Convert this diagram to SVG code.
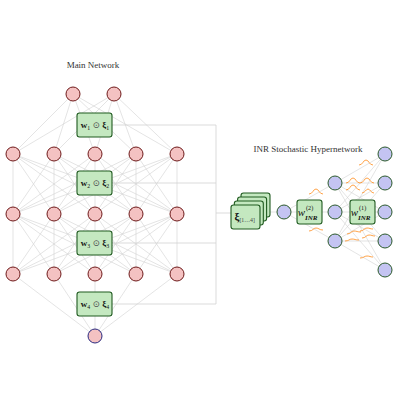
<svg xmlns="http://www.w3.org/2000/svg" width="400" height="400" viewBox="0 0 400 400">
<defs>
<style>
.edge{fill:none;stroke:#d2d2d2;stroke-width:0.6}
.bracket{fill:none;stroke:#d2d2d2;stroke-width:0.8}
.pn{fill:#f4c2c2;stroke:#6e1a1a;stroke-width:1}
.out{fill:#f4c2c2;stroke:#2a2a80;stroke-width:1}
.bn{fill:#c4c4f2;stroke:#2b5a2b;stroke-width:1}
.box{fill:#c4e8c0;stroke:#1f5a1f;stroke-width:1.1}
.bump{fill:none;stroke:#ff8c1a;stroke-width:0.8}
.title{font-family:"Liberation Serif","DejaVu Serif",serif;font-size:9px;fill:#333;text-anchor:middle}
.lab{font-family:"Liberation Serif","DejaVu Serif",serif;font-size:9px;fill:#111}
.b{font-weight:bold}
.sm{font-size:5.8px}
.it{font-style:italic}
.op{font-weight:normal;fill:#555}
.wv{font-size:11px;font-style:italic}
.sup{font-size:6.2px}
.sub{font-size:7px;font-style:italic;font-weight:bold}
</style>
</defs>
<rect width="400" height="400" fill="#fff"/>
<text class="title" x="93" y="68">Main Network</text>
<text class="title" x="308" y="152">INR Stochastic Hypernetwork</text>
<g id="connectors">
<path class="edge" d="M73 94L13 154M73 94L54 154M73 94L95 154M73 94L136 154M73 94L177 154M114 94L13 154M114 94L54 154M114 94L95 154M114 94L136 154M114 94L177 154
M13 154L13 214M13 154L54 214M13 154L95 214M13 154L136 214M13 154L177 214
M54 154L13 214M54 154L54 214M54 154L95 214M54 154L136 214M54 154L177 214
M95 154L13 214M95 154L54 214M95 154L95 214M95 154L136 214M95 154L177 214
M136 154L13 214M136 154L54 214M136 154L95 214M136 154L136 214M136 154L177 214
M177 154L13 214M177 154L54 214M177 154L95 214M177 154L136 214M177 154L177 214
M13 214L13 274M13 214L54 274M13 214L95 274M13 214L136 274M13 214L177 274
M54 214L13 274M54 214L54 274M54 214L95 274M54 214L136 274M54 214L177 274
M95 214L13 274M95 214L54 274M95 214L95 274M95 214L136 274M95 214L177 274
M136 214L13 274M136 214L54 274M136 214L95 274M136 214L136 274M136 214L177 274
M177 214L13 274M177 214L54 274M177 214L95 274M177 214L136 274M177 214L177 274
M13 274L95 336M54 274L95 336M95 274L95 336M136 274L95 336M177 274L95 336"/>
<path class="bracket" d="M112 125H216V304H112M112 183H216M112 243H216M216 213H231"/>
<path class="edge" d="M261 212H277M284 212L335 183M284 212L335 212M284 212L335 241
M335 183L385 154M335 183L385 183M335 183L385 212M335 183L385 241M335 183L385 270
M335 212L385 154M335 212L385 183M335 212L385 212M335 212L385 241M335 212L385 270
M335 241L385 154M335 241L385 183M335 241L385 212M335 241L385 241M335 241L385 270"/>
</g>
<g id="main-nodes">
<circle id="n0a" class="pn" cx="73" cy="94" r="7"/>
<circle id="n0b" class="pn" cx="114" cy="94" r="7"/>
<circle id="n1a" class="pn" cx="13" cy="154" r="7"/>
<circle id="n1b" class="pn" cx="54" cy="154" r="7"/>
<circle id="n1c" class="pn" cx="95" cy="154" r="7"/>
<circle id="n1d" class="pn" cx="136" cy="154" r="7"/>
<circle id="n1e" class="pn" cx="177" cy="154" r="7"/>
<circle id="n2a" class="pn" cx="13" cy="214" r="7"/>
<circle id="n2b" class="pn" cx="54" cy="214" r="7"/>
<circle id="n2c" class="pn" cx="95" cy="214" r="7"/>
<circle id="n2d" class="pn" cx="136" cy="214" r="7"/>
<circle id="n2e" class="pn" cx="177" cy="214" r="7"/>
<circle id="n3a" class="pn" cx="13" cy="274" r="7"/>
<circle id="n3b" class="pn" cx="54" cy="274" r="7"/>
<circle id="n3c" class="pn" cx="95" cy="274" r="7"/>
<circle id="n3d" class="pn" cx="136" cy="274" r="7"/>
<circle id="n3e" class="pn" cx="177" cy="274" r="7"/>
<circle id="n4" class="out" cx="95" cy="336" r="7"/>
</g>
<g id="box1"><rect class="box" x="77" y="113" width="35" height="24" rx="2.5"/>
<text class="lab" x="95" y="128" text-anchor="middle"><tspan class="b">w</tspan><tspan class="sm" dy="1.5">1</tspan><tspan class="op" dy="-1.5"> ⊙ </tspan><tspan class="b">ξ</tspan><tspan class="sm" dy="1.5">1</tspan></text></g>
<g id="box2"><rect class="box" x="77" y="171" width="35" height="24" rx="2.5"/>
<text class="lab" x="95" y="186" text-anchor="middle"><tspan class="b">w</tspan><tspan class="sm" dy="1.5">2</tspan><tspan class="op" dy="-1.5"> ⊙ </tspan><tspan class="b">ξ</tspan><tspan class="sm" dy="1.5">2</tspan></text></g>
<g id="box3"><rect class="box" x="77" y="231" width="35" height="24" rx="2.5"/>
<text class="lab" x="95" y="246" text-anchor="middle"><tspan class="b">w</tspan><tspan class="sm" dy="1.5">3</tspan><tspan class="op" dy="-1.5"> ⊙ </tspan><tspan class="b">ξ</tspan><tspan class="sm" dy="1.5">3</tspan></text></g>
<g id="box4"><rect class="box" x="77" y="292" width="35" height="24" rx="2.5"/>
<text class="lab" x="95" y="307" text-anchor="middle"><tspan class="b">w</tspan><tspan class="sm" dy="1.5">4</tspan><tspan class="op" dy="-1.5"> ⊙ </tspan><tspan class="b">ξ</tspan><tspan class="sm" dy="1.5">4</tspan></text></g>
<g id="xi-stack">
<rect class="box" x="241" y="193" width="29" height="24" rx="2.5"/>
<rect class="box" x="237.6" y="197" width="29" height="24" rx="2.5"/>
<rect class="box" x="234.3" y="201" width="29" height="24" rx="2.5"/>
<rect class="box" x="231" y="205" width="29" height="24" rx="2.5"/>
<text class="lab" x="234.5" y="220"><tspan class="b" font-size="11">ξ</tspan><tspan class="sm" dy="1.5" fill="#444">[1…4]</tspan></text>
</g>
<g id="hyper-nodes">
<circle id="h0" class="bn" cx="284" cy="212" r="7"/>
<circle id="h1a" class="bn" cx="335" cy="183" r="7"/>
<circle id="h1b" class="bn" cx="335" cy="212" r="7"/>
<circle id="h1c" class="bn" cx="335" cy="241" r="7"/>
<circle id="h2a" class="bn" cx="385" cy="154" r="7"/>
<circle id="h2b" class="bn" cx="385" cy="183" r="7"/>
<circle id="h2c" class="bn" cx="385" cy="212" r="7"/>
<circle id="h2d" class="bn" cx="385" cy="241" r="7"/>
<circle id="h2e" class="bn" cx="385" cy="270" r="7"/>
</g>
<g id="winr2"><rect class="box" x="297" y="200" width="25" height="24" rx="2.5"/>
<text class="lab wv" x="297.8" y="216">w</text>
<text class="lab sup" x="306" y="209.5">(2)</text>
<text class="lab sub" x="305" y="220">INR</text></g>
<g id="winr1"><rect class="box" x="350" y="200" width="25" height="24" rx="2.5"/>
<text class="lab wv" x="350.8" y="216">w</text>
<text class="lab sup" x="359" y="209.5">(1)</text>
<text class="lab sub" x="358" y="220">INR</text></g>
<g id="distributions">
<path class="bump" d="M309 194C313 194 313 189 316 189C319 189 319 194 323 194"/>
<path class="bump" d="M309 231C313 231 313 228 316 228C319 228 319 230 323 230"/>
<path class="bump" d="M359 165C363 165 363 160 366 160C369 160 369 165 373 165"/>
<path class="bump" d="M346 183C350 183 350 178 353 178C356 178 356 183 360 183"/>
<path class="bump" d="M360 183C364 183 364 178 367 178C370 178 370 183 374 183"/>
<path class="bump" d="M346 190C350 190 350 185 353 185C356 185 356 190 360 190"/>
<path class="bump" d="M362 193C365 193 366 189 368 189C370 189 371 193 374 193"/>
<path class="bump" d="M360 231C364 231 364 228 367 228C370 228 370 229 373 229"/>
<path class="bump" d="M347 234C351 234 351 231 354 231C357 231 357 232 361 232"/>
<path class="bump" d="M362 238C366 238 366 235 369 235C372 235 372 236 375 236"/>
<path class="bump" d="M345 241C349 241 349 239 352 239C355 239 355 240 359 240"/>
<path class="bump" d="M360 258C364 258 364 256 367 256C370 256 370 257 373 257"/>
</g>
</svg>
